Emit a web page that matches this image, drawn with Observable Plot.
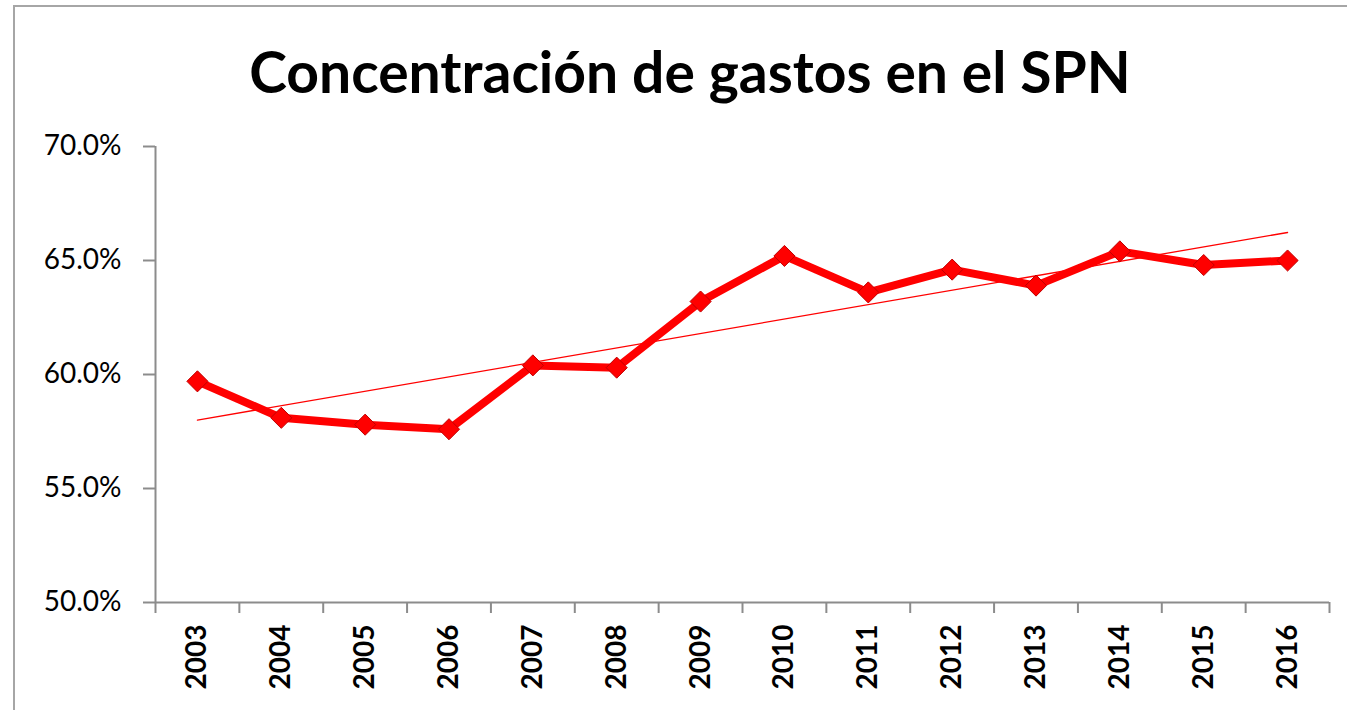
<!DOCTYPE html>
<html><head><meta charset="utf-8">
<script src="https://cdn.jsdelivr.net/npm/d3@7"></script>
<script src="https://cdn.jsdelivr.net/npm/@observablehq/plot@0.6"></script>
<style>
html,body{margin:0;padding:0;background:#fff;}
body{font-family:Lato,"Open Sans",sans-serif;width:1347px;height:710px;overflow:hidden;position:relative;}
#frame{position:absolute;left:13px;top:5px;width:1400px;height:800px;border:2px solid #a6a6a6;box-sizing:border-box;pointer-events:none;z-index:2;}
#title{position:absolute;left:0;top:41px;width:1380px;text-align:center;font-size:57px;line-height:60px;font-weight:bold;color:#000;}
#chart{position:absolute;left:0;top:120px;}
</style></head>
<body>
<div id="frame"></div>
<div id="title">Concentración de gastos en el SPN</div>
<div id="chart"></div>
<script>
const years = [2003,2004,2005,2006,2007,2008,2009,2010,2011,2012,2013,2014,2015,2016];
const values = [59.7,58.1,57.8,57.6,60.4,60.3,63.2,65.2,63.6,64.6,63.9,65.4,64.8,65.0];
const yTicks = [50,55,60,65,70];

const data = years.map((year,i)=>({year, value: values[i]/100}));
const bounds = d3.range(years[0]-0.5, years[years.length-1]+1, 1);
const axisColor = "#8c8c8c";

const chart = Plot.plot({
  width:1347, height:590,
  marginTop:26, marginBottom:108, marginLeft:155, marginRight:18,
  style:{fontFamily:"Lato, 'Open Sans', sans-serif", background:"transparent", color:"#000"},
  x:{type:"linear", domain:[bounds[0], bounds[bounds.length-1]]},
  y:{domain:[yTicks[0]/100, yTicks[yTicks.length-1]/100]},
  marks:[
    Plot.ruleY([yTicks[0]/100], {stroke:axisColor, strokeWidth:2}),
    Plot.ruleX([bounds[0]], {stroke:axisColor, strokeWidth:2}),
    Plot.axisY(yTicks.map(v=>v/100), {tickSize:12, tickPadding:22, stroke:axisColor, strokeWidth:2, fill:"#000", fontSize:28, tickFormat:d=>(d*100).toFixed(1)+"%", label:null}),
    Plot.axisX(bounds, {tickSize:11, stroke:axisColor, strokeWidth:2, tickFormat:()=>"", label:null}),
    Plot.axisX(years, {tickSize:0, tickPadding:22, tickRotate:-90, fill:"#000", fontSize:28, fontWeight:"bold", tickFormat:d=>String(d), label:null}),
    Plot.line(data, {x:"year", y:"value", stroke:"#ff0000", strokeWidth:8, strokeLinejoin:"round"}),
    Plot.linearRegressionY(data, {x:"year", y:"value", stroke:"#ff0000", strokeWidth:1.3, ci:0}),
    Plot.dot(data, {x:"year", y:"value", symbol:"diamond2", r:9.5, fill:"#ff0000", stroke:"#c00000", strokeWidth:1})
  ]
});
document.getElementById("chart").appendChild(chart);
</script>
</body></html>
